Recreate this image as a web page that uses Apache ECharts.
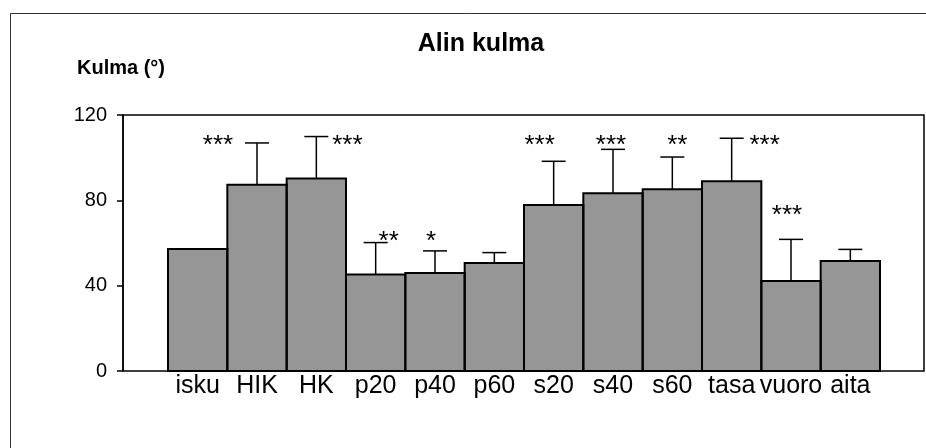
<!DOCTYPE html>
<html>
<head>
<meta charset="utf-8">
<script src="https://cdn.jsdelivr.net/npm/echarts@6/dist/echarts.min.js"></script>
<style>
  html, body { margin: 0; padding: 0; background: #fff; }
  #chart { width: 926px; height: 448px; }
</style>
</head>
<body>
<div id="chart"></div>
<script>
// data
const categories = ["isku", "HIK", "HK", "p20", "p40", "p60", "s20", "s40", "s60", "tasa", "vuoro", "aita"];
const means = [57.2, 87.3, 90.2, 45.2, 45.9, 50.6, 77.8, 83.3, 85.2, 88.9, 42.2, 51.6];
const sds = [0, 19.6, 19.7, 15.0, 10.4, 4.9, 20.5, 20.6, 15.1, 20.2, 19.5, 5.4];
const stars = ["", "***", "***", "**", "*", "", "***", "***", "**", "***", "***", ""];
const starLevel = [null, 107, 107, 62, 62, null, 107, 107, 107, 107, 74, null];
const yTicks = [0, 40, 80, 120];

// label nudges (px), the stars sit beside the bars like text boxes
const starDx = [0, -39, 31, 13, -4, 0, -14, -2, 5, 33, -4, 0];

const font = "Liberation Sans, Arial, sans-serif";
let chart = echarts.init(document.getElementById("chart"));

let option = {
  animation: false,
  title: [
    {
      text: "Alin kulma",
      left: 476,
      top: 27,
      textAlign: "center",
      textStyle: { fontFamily: font, fontSize: 25, fontWeight: "bold", color: "#000" },
    },
    {
      text: "Kulma (°)",
      left: 72,
      top: 53,
      textStyle: { fontFamily: font, fontSize: 20, fontWeight: "bold", color: "#000" },
    },
  ],
  graphic: [
    {
      type: "rect",
      left: 8,
      top: 11,
      shape: { width: 1200, height: 800 },
      style: { fill: "none", stroke: "#333", lineWidth: 1 },
      silent: true,
    },
  ],
  grid: [
    { left: 123, right: 2, top: 115, bottom: 77, show: true, borderColor: "#000", borderWidth: 1.5 },
    { left: 168, right: 46, top: 115, bottom: 77 },
  ],
  xAxis: [
    { type: "value", gridIndex: 0, show: false, min: 0, max: 1 },
    {
      type: "category",
      gridIndex: 1,
      data: categories,
      axisLine: { show: false },
      axisTick: { show: false },
      axisLabel: { interval: 0, margin: 3, fontFamily: font, fontSize: 25, color: "#000" },
    },
  ],
  yAxis: [
    {
      type: "value",
      gridIndex: 0,
      min: yTicks[0],
      max: yTicks[yTicks.length - 1],
      interval: 40,
      splitLine: { show: false },
      axisLine: { show: true, lineStyle: { color: "#000", width: 1.5 } },
      axisTick: { show: true, length: 6, lineStyle: { color: "#000", width: 1.5 } },
      axisLabel: { margin: 16, fontFamily: font, fontSize: 20, color: "#000" },
    },
    { type: "value", gridIndex: 1, min: 0, max: 120, show: false },
  ],
  series: [
    {
      // fill only; outlines drawn below so neighbouring bars share one edge
      type: "bar",
      xAxisIndex: 1,
      yAxisIndex: 1,
      data: means,
      barCategoryGap: 0,
      itemStyle: { color: "#969696", borderWidth: 0 },
    },
    {
      type: "custom",
      xAxisIndex: 1,
      yAxisIndex: 1,
      data: means.map((m, i) => [i, m]),
      renderItem: function (params, api) {
        let top = api.coord([api.value(0), api.value(1)]);
        let base = api.coord([api.value(0), 0]);
        let w = api.size([1, 0])[0];
        return {
          type: "rect",
          shape: { x: top[0] - w / 2, y: top[1], width: w, height: base[1] - top[1] },
          style: { fill: "none", stroke: "#000", lineWidth: 2 },
        };
      },
      z: 3,
    },
    {
      type: "custom",
      xAxisIndex: 1,
      yAxisIndex: 1,
      data: means.map((m, i) => [i, m, m + sds[i]]),
      renderItem: function (params, api) {
        if (api.value(2) <= api.value(1)) return;
        let lo = api.coord([api.value(0), api.value(1)]);
        let hi = api.coord([api.value(0), api.value(2)]);
        let style = { stroke: "#000", lineWidth: 1.5 };
        return {
          type: "group",
          children: [
            { type: "line", shape: { x1: lo[0], y1: lo[1], x2: hi[0], y2: hi[1] }, style: style },
            { type: "line", shape: { x1: hi[0] - 12, y1: hi[1], x2: hi[0] + 12, y2: hi[1] }, style: style },
          ],
        };
      },
      z: 3,
    },
    {
      type: "custom",
      xAxisIndex: 1,
      yAxisIndex: 1,
      data: starLevel.map((v, i) => [i, v == null ? 0 : v]),
      renderItem: function (params, api) {
        let i = params.dataIndex;
        if (!stars[i]) return;
        let p = api.coord([api.value(0), api.value(1)]);
        return {
          type: "text",
          x: p[0] + starDx[i],
          y: p[1] + 3,
          style: {
            text: stars[i],
            fontFamily: font,
            fontSize: 26,
            fill: "#000",
            align: "center",
            verticalAlign: "middle",
          },
        };
      },
      z: 4,
    },
  ],
};

chart.setOption(option);
</script>
</body>
</html>
